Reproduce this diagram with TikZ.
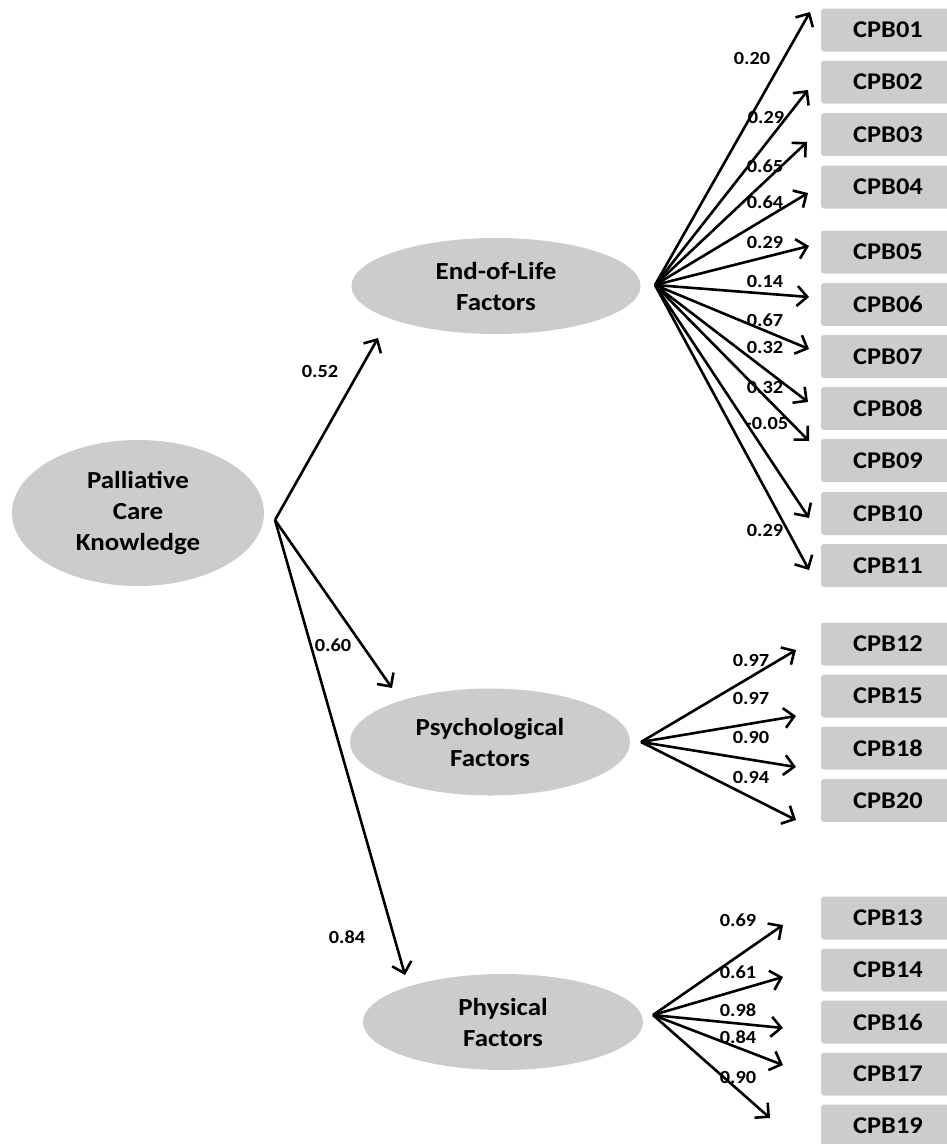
\documentclass[tikz,border=0pt]{standalone}
\usepackage{fontspec}
\setmainfont{Carlito}[FakeStretch=1.1]
\usetikzlibrary{arrows.meta,shapes.geometric}
\definecolor{boxgray}{RGB}{204,204,204}
\begin{document}
\begin{tikzpicture}[x=1pt,y=-1pt,
 latent/.style={ellipse, fill=boxgray, inner sep=0pt, font=\fontsize{24.5}{31}\selectfont\bfseries, align=center},
 obs/.style={rectangle, rounded corners=3pt, fill=boxgray, minimum width=134pt, minimum height=43pt, inner sep=0pt, font=\fontsize{24}{27}\selectfont\bfseries},
 conn/.style={line width=2.6pt, -{Straight Barb[length=10pt,width=20pt,line width=2.6pt]}},
 lbl/.style={font=\fontsize{18.5}{20}\selectfont\bfseries, inner sep=0pt}]
\useasboundingbox (0,0) rectangle (947,1144);
\clip (0,0) rectangle (947,1144);

% latent variables
\node[latent, minimum width=252pt, minimum height=146pt] (pck) at (138,513) {Palliative\\Care\\Knowledge};
\node[latent, minimum width=289pt, minimum height=96pt] (eol) at (496,286) {End-of-Life\\Factors};
\node[latent, minimum width=280pt, minimum height=107pt] (psy) at (490,742) {Psychological\\Factors};
\node[latent, minimum width=280pt, minimum height=96pt] (phy) at (503,1022) {Physical\\Factors};

% observed items
\node[obs] (c01) at (888,30) {CPB01};
\node[obs] (c02) at (888,82) {CPB02};
\node[obs] (c03) at (888,134.5) {CPB03};
\node[obs] (c04) at (888,187) {CPB04};
\node[obs] (c05) at (888,252) {CPB05};
\node[obs] (c06) at (888,304.5) {CPB06};
\node[obs] (c07) at (888,356.5) {CPB07};
\node[obs] (c08) at (888,408.5) {CPB08};
\node[obs] (c09) at (888,460.5) {CPB09};
\node[obs] (c10) at (888,513.5) {CPB10};
\node[obs] (c11) at (888,565.5) {CPB11};
\node[obs] (c12) at (888,644) {CPB12};
\node[obs] (c15) at (888,696) {CPB15};
\node[obs] (c18) at (888,748) {CPB18};
\node[obs] (c20) at (888,800.5) {CPB20};
\node[obs] (c13) at (888,918) {CPB13};
\node[obs] (c14) at (888,970) {CPB14};
\node[obs] (c16) at (888,1022) {CPB16};
\node[obs] (c17) at (888,1074) {CPB17};
\node[obs] (c19) at (888,1126) {CPB19};

% origins
\coordinate (oP) at (275,520);
\coordinate (oE) at (655,285);
\coordinate (oS) at (641,742);
\coordinate (oH) at (653,1015);

% structural paths
\coordinate (tE) at (378,338);
\coordinate (tS) at (392,688);
\coordinate (tH) at (405,975);
\draw[conn] (oP) -- (tE);
\draw[conn] (oP) -- (tS);
\draw[conn] (oP) -- (tH);
\node[lbl] (l52) at (320,371) {0.52};
\node[lbl] (l60) at (333,645) {0.60};
\node[lbl] (l84) at (347,937) {0.84};

% End-of-Life loadings
\coordinate (t01) at (810,12);
\coordinate (t02) at (808,90);
\coordinate (t03) at (807,142);
\coordinate (t04) at (808,193);
\coordinate (t05) at (809,246);
\coordinate (t06) at (809,297);
\coordinate (t07) at (809,349);
\coordinate (t08) at (808,402);
\coordinate (t09) at (809,441);
\coordinate (t10) at (809,518);
\coordinate (t11) at (809,570);
\foreach \t in {t01,t02,t03,t04,t05,t06,t07,t08,t09,t10,t11}
  \draw[conn] (oE) -- (\t);
\node[lbl] (e01) at (752,58) {0.20};
\node[lbl] (e02) at (766,117) {0.29};
\node[lbl] (e03) at (765,166) {0.65};
\node[lbl] (e04) at (765,202) {0.64};
\node[lbl] (e05) at (765,242) {0.29};
\node[lbl] (e06) at (765,281) {0.14};
\node[lbl] (e07) at (765,320) {0.67};
\node[lbl] (e08) at (765,347) {0.32};
\node[lbl] (e09) at (765,387) {0.32};
\node[lbl] (e10) at (767,423) {-0.05};
\node[lbl] (e11) at (765,530) {0.29};

% Psychological loadings
\coordinate (t12) at (796,650);
\coordinate (t15) at (796,716);
\coordinate (t18) at (796,767);
\coordinate (t20) at (796,820);
\foreach \t in {t12,t15,t18,t20}
  \draw[conn] (oS) -- (\t);
\node[lbl] (s12) at (751,660) {0.97};
\node[lbl] (s15) at (751,698) {0.97};
\node[lbl] (s18) at (751,737) {0.90};
\node[lbl] (s20) at (751,777) {0.94};

% Physical loadings
\coordinate (t13) at (783,925);
\coordinate (t14) at (783,977);
\coordinate (t16) at (783,1028);
\coordinate (t17) at (783,1065);
\coordinate (t19) at (770,1118);
\foreach \t in {t13,t14,t16,t17,t19}
  \draw[conn] (oH) -- (\t);
\node[lbl] (h13) at (738,920) {0.69};
\node[lbl] (h14) at (738,972) {0.61};
\node[lbl] (h16) at (738,1010) {0.98};
\node[lbl] (h17) at (738,1037) {0.84};
\node[lbl] (h19) at (738,1077) {0.90};
\end{tikzpicture}
\end{document}
